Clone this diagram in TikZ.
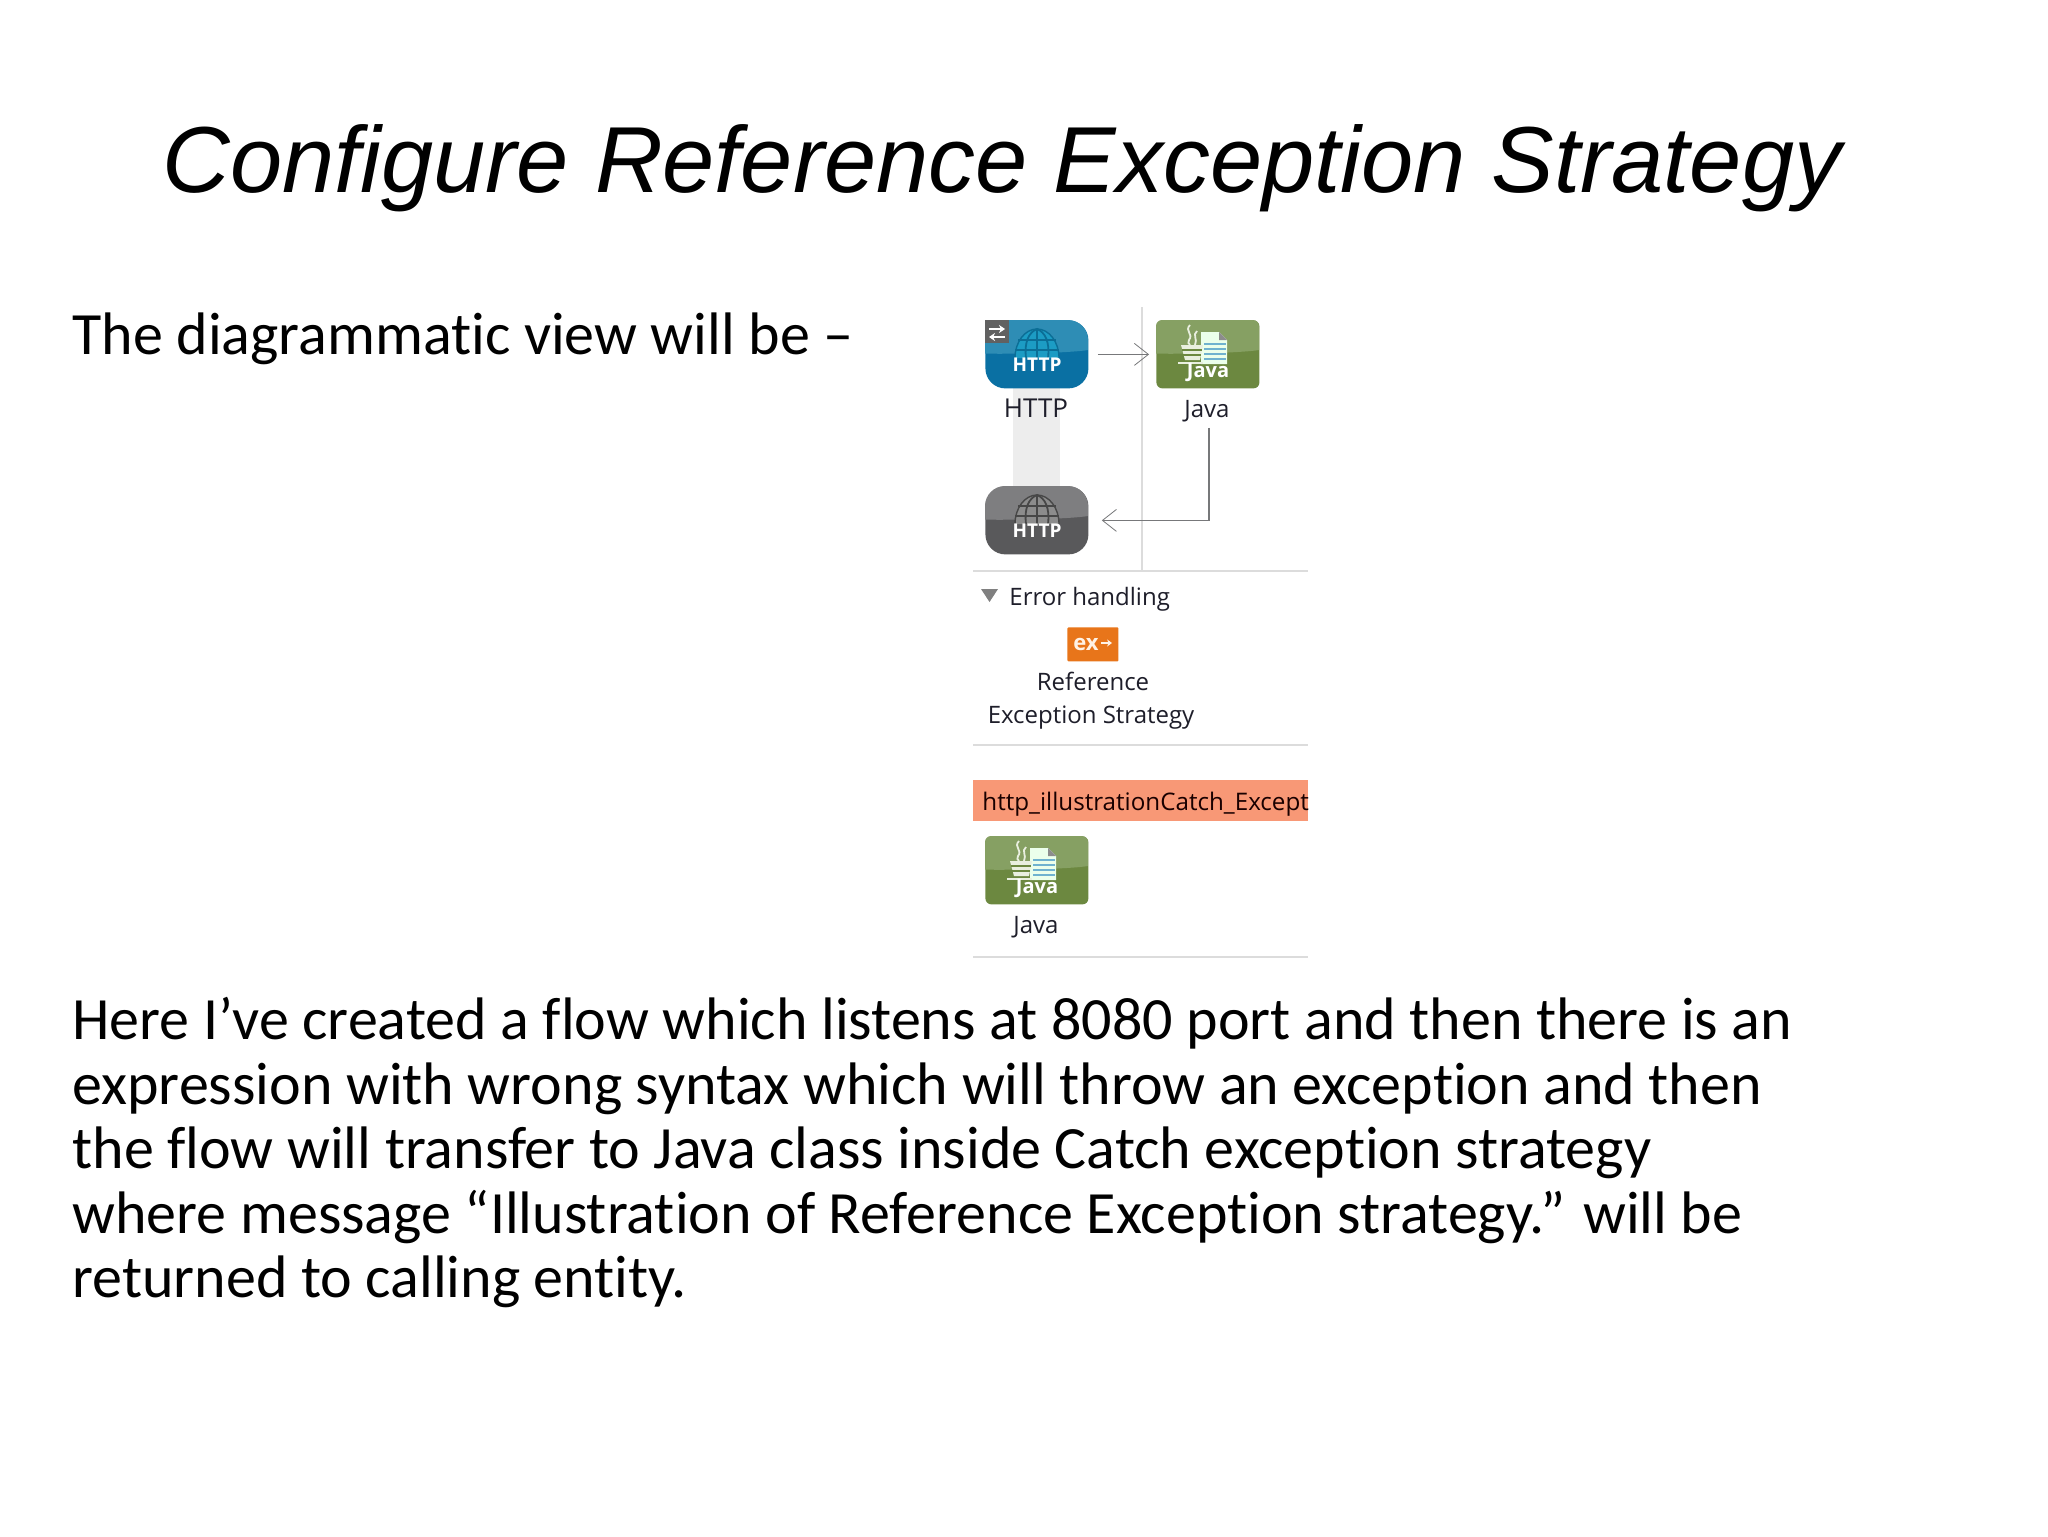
\documentclass[tikz,border=0pt]{standalone}
\usepackage{fontspec}
\setmainfont[Ligatures=CommonOff]{Carlito}
\newfontfamily\titlefont{Liberation Sans}
\newfontfamily\uifont{Open Sans}
\usetikzlibrary{arrows.meta}
\definecolor{blueT}{HTML}{2E8DB5}\definecolor{blueB}{HTML}{0A70A3}
\definecolor{greenT}{HTML}{86A063}\definecolor{greenB}{HTML}{6C8840}
\definecolor{grayT}{HTML}{7E7E80}\definecolor{grayB}{HTML}{59595B}
\definecolor{uiline}{HTML}{DCDCDC}
\definecolor{flowc}{HTML}{77787A}
\definecolor{uitext}{HTML}{1E1E2A}
\definecolor{exorange}{HTML}{E8751A}
\definecolor{bandorange}{HTML}{F89876}
\definecolor{iconpale}{HTML}{E9EFDF}
\definecolor{globeblue}{HTML}{1C9CC4}
\definecolor{globedark}{HTML}{0B6E96}
\definecolor{pagelines}{HTML}{6FB2CF}
\tikzset{
  uilabel/.style={font=\uifont\fontsize{12}{16}\selectfont,text=uitext,inner sep=0pt,anchor=base},
  flow/.style={draw=flowc,line width=.75pt,-{Straight Barb[length=7pt,width=11pt,line width=.4pt]}},
  rule/.style={draw=uiline,line width=1pt},
  bodytext/.style={font=\fontsize{30}{32.25}\selectfont,inner sep=0pt,align=left,anchor=north west},
  icontext/.style={text=white,inner sep=0pt,anchor=base,font=\uifont\bfseries\fontsize{9.5}{9.5}\selectfont}
}
% #1 name, #2 left, #3 top, #4 radius, #5 top colour, #6 bottom colour
\newcommand{\iconbase}[6]{%
  \node[minimum width=51.5pt,minimum height=34pt,inner sep=0pt,anchor=north west,
        rounded corners=#4pt,fill=#6] (#1) at (#2,#3) {};
  \begin{scope}
    \clip[rounded corners=#4pt] (#2,#3) rectangle ++(103,68);
    \fill[#5] (#2,#3) -- ++(103,0) -- ++(0,30) .. controls +(-30,5) and +(-70,5) .. ++(-103,0) -- cycle;
  \end{scope}}
\newcommand{\globe}[4]{% #1 left, #2 top, #3 globe colour, #4 line colour
  \begin{scope}[shift={(#1,#2)}]
    \fill[#3] (30,38) arc[start angle=180,end angle=360,x radius=22,y radius=29] -- cycle;
    \draw[#4,line width=.7pt] (30,38) arc[start angle=180,end angle=360,x radius=22,y radius=29];
    \draw[#4,line width=.9pt] (41,38) .. controls (39,22) and (44,12) .. (52,9) .. controls (60,12) and (65,22) .. (63,38);
    \draw[#4,line width=.9pt] (52,9) -- (52,38) (33,20) -- (71,20) (30,30) -- (74,30);
    \node[icontext] at (52,51) {HTTP};
  \end{scope}}
\newcommand{\javaicon}[2]{% #1 left, #2 top
  \begin{scope}[shift={(#1,#2)}]
    \fill[white!92!green] (45,12) -- (63,12) -- (71,20) -- (71,44) -- (45,44) -- cycle;
    \fill[black!45] (63,12) -- (71,20) -- (63,20) -- cycle;
    \foreach \yy in {24,29,34,39} \draw[pagelines,line width=1pt] (48,\yy) -- (70,\yy);
    \fill[iconpale] (25,25) -- (47,25) -- (44,40) -- (29,40) -- cycle;
    \draw[greenB,line width=.6pt] (26,30) -- (46,30) (27,35) -- (45,35);
    \draw[iconpale,line width=.9pt] (34,5) .. controls (28,11) and (38,14) .. (33,20) .. controls (31,22) and (33,24) .. (34,25);
    \draw[iconpale,line width=.9pt] (41,11) .. controls (36,15) and (42,19) .. (39,25);
    \draw[iconpale,line width=.9pt] (22,43) -- (47,43);
    \node[icontext,font=\uifont\bfseries\fontsize{10}{10}\selectfont] at (52,57) {Java};
  \end{scope}}
\begin{document}
\begin{tikzpicture}[x=.5pt,y=-.5pt]
\useasboundingbox[fill=white] (0,0) rectangle (2048,1536);

\node[font=\titlefont\itshape\fontsize{46.9}{56}\selectfont,inner sep=0pt,anchor=base west] (title) at (162,192) {Configure Reference Exception Strategy};
\node[bodytext,anchor=base west] (intro) at (72,354) {The diagrammatic view will be –};
\node[bodytext] (para) at (72,997) {Here I’ve created a flow which listens at 8080 port and then there is an\\
expression with wrong syntax which will throw an exception and then\\
the flow will transfer to Java class inside Catch exception strategy\\
where message “Illustration of Reference Exception strategy.” will be\\
returned to calling entity.};

% flow panel
\fill[black!7] (1013,388) rectangle (1060,486);
\draw[uiline,line width=.8pt] (1142,307) -- (1142,570);
\draw[rule] (973,571) -- (1308,571);

\iconbase{http}{985}{320}{10}{blueT}{blueB}
\globe{985}{320}{globeblue}{globedark}
\fill[black!62] (985,320) rectangle (1009,343);
\draw[white,line width=.9pt,-{Stealth[length=3pt,width=4pt]}] (989,329) -- (1005,329);
\draw[white,line width=.9pt,-{Stealth[length=3pt,width=4pt]}] (1005,337) -- (989,337);
\node[uilabel,font=\uifont\fontsize{13}{16}\selectfont] (httplabel) at (1036,417) {HTTP};

\iconbase{java}{1156}{320}{3}{greenT}{greenB}
\javaicon{1156}{320}
\node[uilabel] (javalabel) at (1207,417) {Java};

\iconbase{httpout}{985}{486}{10}{grayT}{grayB}
\globe{985}{486}{black!45}{black!72}

\draw[flow,shorten <=4.5pt,shorten >=3.5pt] (http.east) -- (java.west);
\draw[flow,shorten >=6.5pt] (javalabel.south) ++(2,6) coordinate (jout) -- (jout |- httpout.east) -- (httpout.east);

% error handling
\fill[black!50] (981,589) -- (998,589) -- (989.5,602) -- cycle;
\node[uilabel,anchor=base west] (errh) at (1009,605) {Error handling};
\node[fill=exorange,minimum width=25.5pt,minimum height=17pt,inner sep=0pt,anchor=north west,rounded corners=.5pt] (ex) at (1067,627) {};
\node[text=white!90!orange,inner sep=0pt,anchor=base,font=\uifont\bfseries\fontsize{11}{11}\selectfont] (extext) at (1086,650) {ex};
\draw[white!90!orange,line width=.8pt,-{Stealth[length=2.5pt,width=3.5pt]}] (extext.east) ++(2,-1) -- ++(11,0);
\node[uilabel] (ref) at (1093,690) {Reference};
\node[uilabel] (exc) at (1091,723) {Exception Strategy};
\draw[rule] (973,745) -- (1308,745);

% catch band
\begin{scope}
  \clip (973,780) rectangle (1308,821);
  \fill[bandorange] (973,780) rectangle (1308,821);
  \node[uilabel,anchor=base west,text=black!90!red,font=\uifont\fontsize{12.1}{16}\selectfont] (band) at (982,810) {http\_illustrationCatch\_Except};
\end{scope}

\iconbase{javacatch}{985}{836}{3}{greenT}{greenB}
\javaicon{985}{836}
\node[uilabel] (javacatchlabel) at (1036,933) {Java};
\draw[rule] (973,957) -- (1308,957);
\end{tikzpicture}
\end{document}
